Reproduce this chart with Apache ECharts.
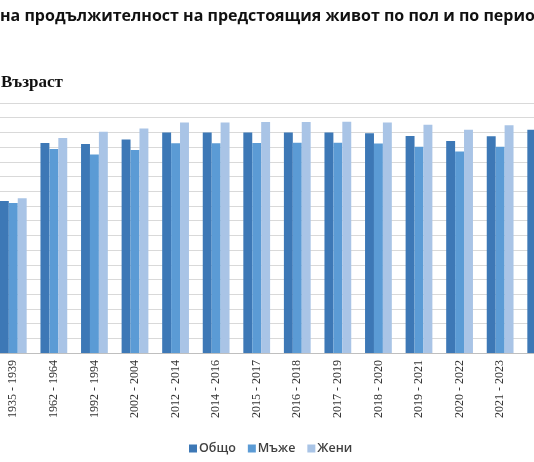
<!DOCTYPE html>
<html>
<head>
<meta charset="utf-8">
<script src="https://cdn.jsdelivr.net/npm/echarts@6/dist/echarts.min.js"></script>
<style>
  html, body { margin: 0; padding: 0; background: #fff; }
  #chart { width: 534px; height: 462px; }
</style>
</head>
<body>
<div id="chart"></div>
<script>
// периоди
const periods = ['1935 - 1939', '1962 - 1964', '1992 - 1994', '2002 - 2004', '2012 - 2014', '2014 - 2016',
  '2015 - 2017', '2016 - 2018', '2017 - 2019', '2018 - 2020', '2019 - 2021', '2020 - 2022', '2021 - 2023', '2022 - 2024'];
// години, прочетени от графиката
const total = [51.7, 71.4, 71.1, 72.6, 75.0, 75.0, 75.0, 75.0, 75.0, 74.7, 73.8, 72.1, 73.7, 75.9];
const male = [51.0, 69.4, 67.5, 69.0, 71.3, 71.3, 71.4, 71.5, 71.5, 71.2, 70.1, 68.5, 70.1, 72.4];
const female = [52.6, 73.1, 75.2, 76.3, 78.4, 78.4, 78.5, 78.5, 78.6, 78.4, 77.6, 75.9, 77.4, 79.4];

const titleText = 'Средна продължителност на предстоящия живот по пол и по периоди';
const titleFont = 'bold 16px "Open Sans"';

// началото на заглавието е отрязано вляво
const ctx = document.createElement('canvas').getContext('2d');
ctx.font = titleFont;
const titleShift = ctx.measureText('Сред').width;

const chart = echarts.init(document.getElementById('chart'));
const option = {
  animation: false,
  color: ['#3d78b6', '#5b9bd5', '#a9c4e6'],
  graphic: [
    { type: 'text', left: -titleShift, top: 8, style: { text: titleText, font: titleFont, fill: '#111' } },
    { type: 'text', left: 1, top: 74, style: { text: 'Възраст', font: 'bold 17px "Liberation Serif"', fill: '#111' } }
  ],
  legend: {
    top: 437,
    left: 184,
    itemWidth: 8,
    itemHeight: 8,
    itemGap: 12,
    icon: 'rect',
    textStyle: { fontFamily: 'Open Sans', fontSize: 12.5, fontWeight: 600, color: '#404040', padding: [0, 0, 0, -3] }
  },
  grid: { left: -7, right: -27, top: 103, bottom: 109, outerBoundsMode: 'none' },
  xAxis: {
    type: 'category',
    data: periods,
    axisLine: { lineStyle: { color: '#bfbfbf' } },
    axisTick: { length: 3, lineStyle: { color: '#bfbfbf' } },
    axisLabel: { rotate: 90, margin: 7, interval: 0, fontFamily: 'Liberation Serif', fontSize: 12, color: '#333' }
  },
  yAxis: {
    type: 'value',
    min: 0,
    max: 85,
    interval: 5,
    axisLabel: { show: false },
    axisLine: { show: false },
    axisTick: { show: false },
    splitLine: { lineStyle: { color: '#d9d9d9' } }
  },
  series: [
    { name: 'Общо', type: 'bar', data: total, barGap: '0%', barCategoryGap: '34%' },
    { name: 'Мъже', type: 'bar', data: male },
    { name: 'Жени', type: 'bar', data: female }
  ]
};
chart.setOption(option);
</script>
</body>
</html>
